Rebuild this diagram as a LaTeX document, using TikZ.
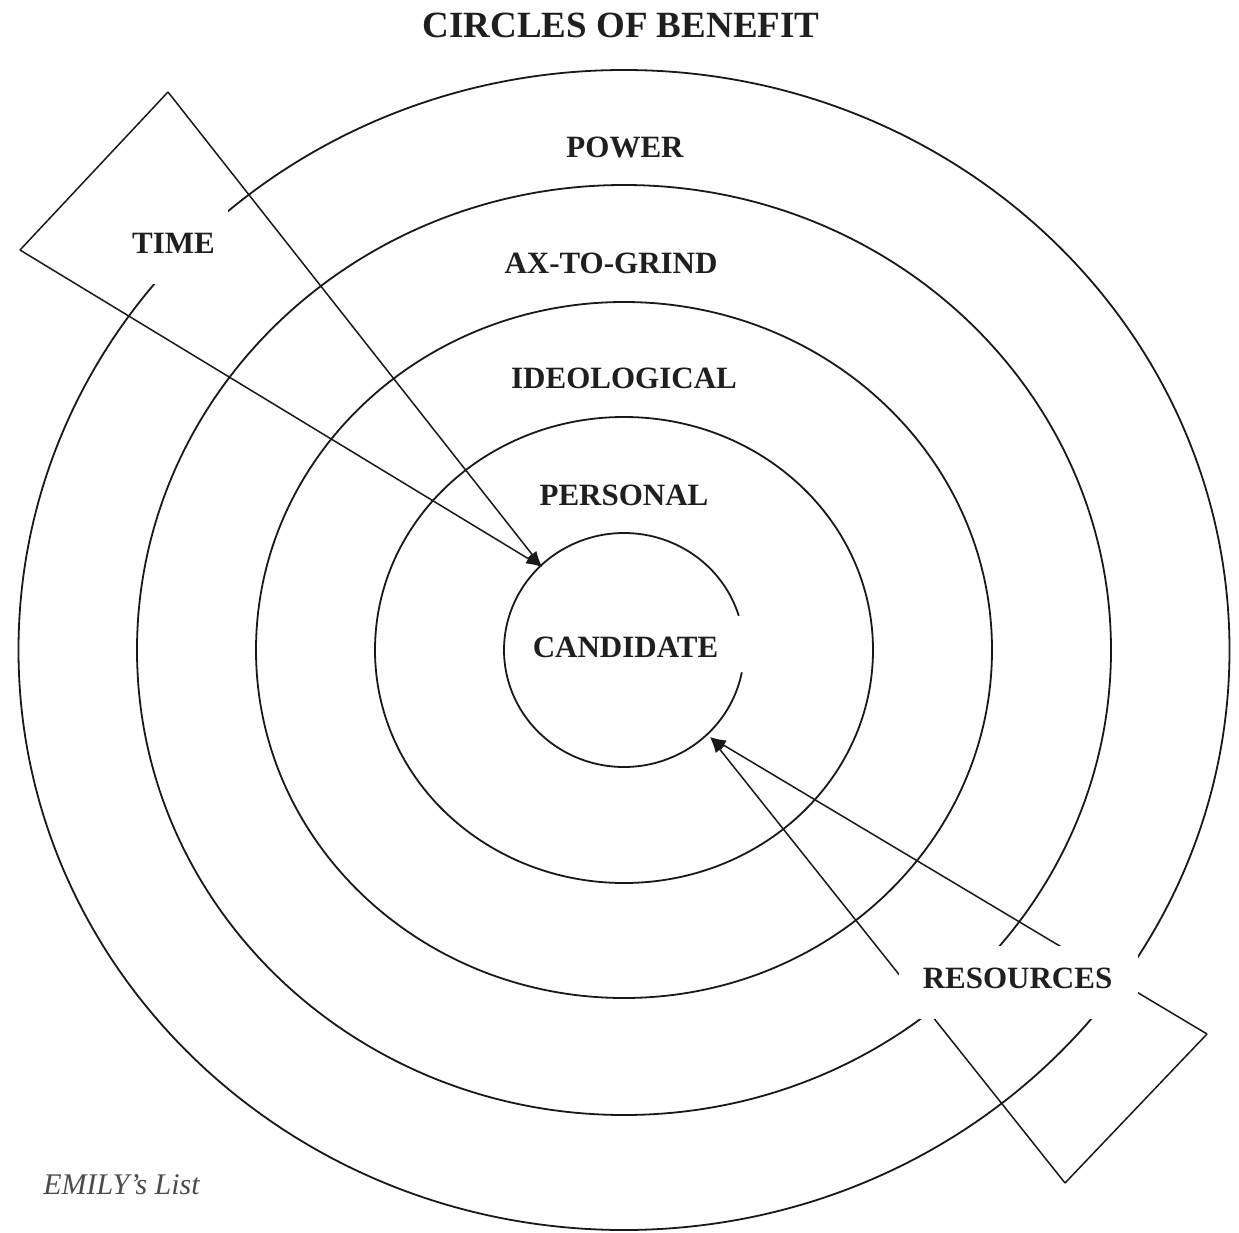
\documentclass[tikz,border=0pt]{standalone}
\usepackage{fontspec}
\setmainfont{Liberation Serif}
\usetikzlibrary{arrows.meta}
\begin{document}
\begin{tikzpicture}[x=1pt,y=-1pt,
  ring/.style={line width=1.8pt, draw=black!90},
  lbl/.style={font=\fontsize{31}{31}\selectfont\bfseries, text=black!88, inner sep=0pt},
  wedge/.style={line width=1.5pt, draw=black!90},
  head/.style={-{Latex[length=16pt,width=11pt]}, line width=1.5pt, draw=black!90, fill=black!90},
  blank/.style={fill=white, inner sep=0pt},
]
\useasboundingbox (0,0) rectangle (1239,1233);
\fill[white] (0,0) rectangle (1239,1233);

% rings
\draw[ring] (624,650) ellipse [x radius=605.5, y radius=580];
\draw[ring] (624,650) ellipse [x radius=487, y radius=465];
\draw[ring] (624,650) ellipse [x radius=368, y radius=348];
\draw[ring] (624,650) ellipse [x radius=249, y radius=233];
\draw[ring] plot[domain=11:343, samples=240, smooth] ({624+120*cos(\x)},{650+117*sin(\x)});

% TIME wedge
\coordinate (tA) at (168,92);
\coordinate (tB) at (20,250);
\coordinate (tT) at (542,567);
\draw[wedge] (tA) -- (tB);
\draw[head] (tA) -- (tT);
\draw[head] (tB) -- (tT);

% RESOURCES wedge
\coordinate (rC) at (1065,1183);
\coordinate (rD) at (1207,1034);
\coordinate (rT) at (710,737);
\draw[wedge] (rC) -- (rD);
\draw[head] (rC) -- (rT);
\draw[head] (rD) -- (rT);

% white label grounds
\node[blank, minimum width=110pt, minimum height=83pt] (timebg) at (173,242.5) {};
\node[blank, minimum width=239pt, minimum height=73pt] (resbg) at (1018.5,982.5) {};

% labels
\node[font=\fontsize{37}{37}\selectfont\bfseries, text=black!88, inner sep=0pt] (title) at (621,25) {CIRCLES OF BENEFIT};
\node[lbl] (power) at (625,147) {POWER};
\node[lbl] (ax) at (611,263) {AX-TO-GRIND};
\node[lbl] (ideo) at (624,378) {IDEOLOGICAL};
\node[lbl] (pers) at (624,495) {PERSONAL};
\node[lbl] (cand) at (625.5,647) {CANDIDATE};
\node[lbl] (time) at (173.5,243) {TIME};
\node[lbl] (res) at (1017.5,978) {RESOURCES};
\node[font=\fontsize{30}{30}\selectfont\itshape, text=black!70, inner sep=0pt] (emily) at (121.5,1185) {EMILY’s List};
\end{tikzpicture}
\end{document}
